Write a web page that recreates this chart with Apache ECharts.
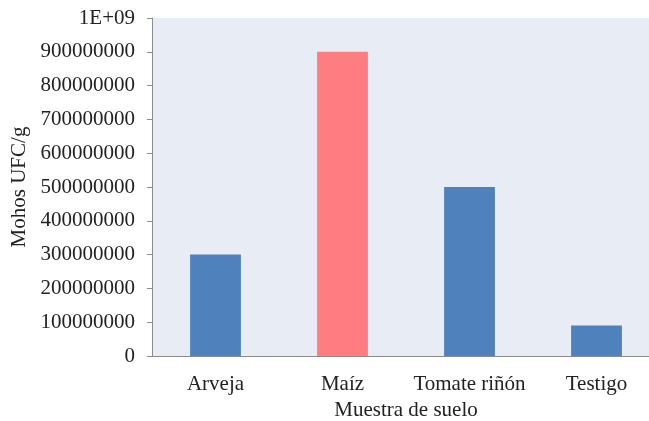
<!DOCTYPE html>
<html>
<head>
<meta charset="utf-8">
<script src="https://cdn.jsdelivr.net/npm/echarts@6/dist/echarts.min.js"></script>
<style>
  html, body { margin: 0; padding: 0; background: #ffffff; }
  #chart { width: 649px; height: 421px; }
</style>
</head>
<body>
<div id="chart"></div>
<script>
// Soil samples and mould counts (CFU per gram)
const categories = ['Arveja', 'Maíz', 'Tomate riñón', 'Testigo'];
const mohosUFC = [300000000, 900000000, 500000000, 90000000];
const barColors = ['#4F81BD', '#FF7C80', '#4F81BD', '#4F81BD'];
const yTicks = [0, 100000000, 200000000, 300000000, 400000000, 500000000,
  600000000, 700000000, 800000000, 900000000, 1000000000];

const font = 'Liberation Serif, Times New Roman, serif';
const textColor = '#222222';
const fontSize = 21;

const chart = echarts.init(document.getElementById('chart'), null, { renderer: 'canvas' });
chart.setOption({
  animation: false,
  grid: {
    left: 152, top: 18, width: 508, height: 338,
    containLabel: false, outerBoundsMode: 'none',
    backgroundColor: '#E8ECF5', show: true, borderWidth: 0
  },
  xAxis: {
    type: 'category',
    data: categories,
    name: 'Muestra de suelo',
    nameLocation: 'middle',
    nameGap: 44,
    nameTextStyle: { fontFamily: font, fontSize: fontSize, color: textColor },
    axisLine: { show: true, lineStyle: { color: '#8C8C8C', width: 1 } },
    axisTick: { show: false },
    axisLabel: { fontFamily: font, fontSize: fontSize, color: textColor, margin: 18, interval: 0 },
    splitLine: { show: false }
  },
  yAxis: {
    type: 'value',
    min: 0,
    max: 1000000000,
    interval: 100000000,
    name: 'Mohos UFC/g',
    nameLocation: 'middle',
    nameGap: 120,
    nameRotate: 90,
    nameTextStyle: { fontFamily: font, fontSize: fontSize, color: textColor },
    axisLine: { show: true, lineStyle: { color: '#8C8C8C', width: 1 } },
    axisTick: { show: true, length: 5, lineStyle: { color: '#8C8C8C' } },
    axisLabel: {
      fontFamily: font, fontSize: fontSize, color: textColor, margin: 17,
      formatter: v => (v === yTicks[yTicks.length - 1] ? '1E+09' : String(v))
    },
    splitLine: { show: false }
  },
  series: [{
    type: 'bar',
    data: mohosUFC.map((v, i) => ({ value: v, itemStyle: { color: barColors[i] } })),
    barWidth: '40%'
  }]
});
</script>
</body>
</html>
